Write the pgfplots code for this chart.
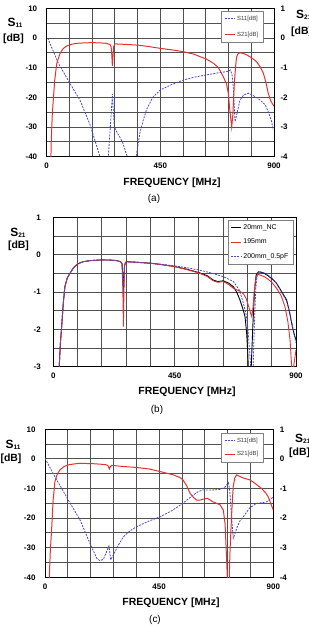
\documentclass[border=0pt]{standalone}
\usepackage{pgfplots}
\pgfplotsset{compat=1.18}
\usepackage{fontspec}
\setmainfont{Liberation Sans}
\definecolor{sred}{RGB}{228,48,48}
\definecolor{sblue}{RGB}{72,72,205}
\definecolor{gridc}{RGB}{80,80,80}
\pgfplotsset{
  base/.style={scale only axis, anchor=south west, xmin=0, xmax=900,
    xtick={0,450,900}, minor xtick={90,180,...,810},
    grid=both, grid style={gridc, line width=0.85pt}, minor grid style={gridc, line width=0.85pt},
    axis line style={black, line width=0.9pt}, tick style={draw=none},
    /pgf/number format/assume math mode=true,
    ticklabel style={font=\bfseries\fontsize{8}{9}\selectfont},
    xticklabel style={yshift=-3bp},
    legend cell align=left,
    legend image code/.code={\draw[##1] (0cm,0cm) -- (0.35cm,0cm);},
  },
  rightax/.style={scale only axis, anchor=south west, xmin=0, xmax=900, ymin=-4, ymax=1,
    ytick={-4,-3,...,1}, axis y line*=right, axis x line=none,
    axis line style={black, line width=0.9pt}, tick style={draw=none},
    /pgf/number format/assume math mode=true,
    ticklabel style={font=\bfseries\fontsize{8}{9}\selectfont},
    yticklabel style={xshift=3bp},
    legend cell align=left,
    legend image code/.code={\draw[##1] (0cm,0cm) -- (0.35cm,0cm);},
  },
  lgd/.style={legend style={font=\fontsize{6}{7}\selectfont, draw=gray, line width=0.5pt, fill=white, inner sep=2.5bp, text=darkgray}},
  s11/.style={sblue, line width=0.8pt, dash pattern=on 2pt off 1.2pt},
  s21/.style={sred, line width=1.0pt},
}
\begin{document}
\begin{tikzpicture}
\useasboundingbox (0,0) rectangle (309bp,627bp);
% ---------------- (a)
\begin{axis}[base, at={(46.7bp,470.3bp)}, width=227.3bp, height=148.4bp,
  ymin=-40, ymax=10, ytick={-40,-30,...,10}, minor ytick={-35,-25,...,5},
  yticklabel style={xshift=-6bp}]
\addplot[s11] coordinates {(4,0) (46,-8.5) (90,-15) (132,-21) (172,-29.3) (211,-40) (228,-50) (244,-40) (252,-30) (260,-18.9) (264,-25) (268,-30) (280,-32) (300,-35) (319,-40) (336,-50) (354,-40) (369,-32) (383,-27.5) (396,-24) (420,-20) (450,-17.5) (495,-15.7) (540,-14.2) (585,-13.2) (629,-12.5) (675,-11.8) (715,-11.3) (728,-10.8) (734,-12.5) (740,-18) (745.6,-28.2) (752,-26) (765,-21) (780,-19.2) (798,-18.6) (820,-19.5) (845,-20.9) (865,-22.5) (877,-24.8) (890,-28) (897,-31)};
\end{axis}
\begin{axis}[rightax, at={(46.7bp,470.3bp)}, width=227.3bp, height=148.4bp, lgd,
  legend style={at={(0.952,0.982)}, anchor=north east, row sep=6.5bp}]
\addlegendimage{s11}\addlegendentry{S11[dB]}
\addplot[s21] coordinates {(14,-5) (18,-3.5) (22,-2.6) (26,-2.09) (32,-1.4) (40,-0.85) (53,-0.52) (65,-0.36) (79,-0.27) (100,-0.21) (119,-0.18) (150,-0.165) (181,-0.157) (210,-0.165) (237,-0.18) (250,-0.22) (255,-0.29) (258,-0.6) (260,-0.94) (262,-0.7) (265,-0.3) (270,-0.20) (300,-0.21) (330,-0.225) (360,-0.24) (405,-0.29) (450,-0.35) (495,-0.40) (540,-0.46) (585,-0.55) (607,-0.63) (630,-0.70) (660,-0.85) (680,-1.0) (699,-1.3) (712,-1.55) (719,-1.86) (726,-2.5) (732.5,-3.0) (737,-2.6) (743,-1.53) (748,-0.95) (752,-0.63) (758,-0.53) (765,-0.5) (778,-0.52) (792,-0.57) (810,-0.66) (831,-0.8) (845,-0.97) (858,-1.19) (868,-1.5) (877,-1.86) (887,-2.12) (900,-2.3)};
\addlegendentry{S21[dB]}
\end{axis}
% ---------------- (b)
\begin{axis}[base, at={(53.3bp,260.3bp)}, width=242.7bp, height=149.4bp,
  ymin=-3, ymax=1, ytick={-3,-2,...,1}, minor ytick={-2.5,-1.5,-0.5,0.5},
  yticklabel style={xshift=-9bp}, lgd,
  legend style={at={(0.988,0.982)}, anchor=north east, font=\fontsize{7}{8}\selectfont, text=black, row sep=4bp}]
\addplot[black, line width=0.9pt] coordinates {(20,-3.3) (22,-3) (26,-2.4) (31,-1.93) (37,-1.3) (43,-0.857) (52,-0.62) (62,-0.5) (75,-0.35) (90,-0.25) (110,-0.19) (136,-0.16) (180,-0.14) (210,-0.145) (235,-0.16) (250,-0.19) (255,-0.25) (258,-0.6) (260,-0.99) (262,-0.6) (264,-0.3) (268,-0.21) (272,-0.19) (300,-0.2) (330,-0.215) (361,-0.23) (405,-0.27) (450,-0.32) (495,-0.39) (540,-0.48) (570,-0.56) (593,-0.68) (610,-0.72) (630,-0.70) (650,-0.76) (668,-0.86) (680,-1.0) (692,-1.21) (703,-1.45) (711,-1.66) (717,-2.1) (721,-2.6) (723,-3) (726,-3.5) (730,-3.5) (734,-3) (740,-1.9) (746,-1.0) (752,-0.55) (760,-0.46) (770,-0.47) (782,-0.5) (795,-0.56) (810,-0.64) (828,-0.77) (845,-0.97) (865,-1.21) (875,-1.5) (884,-1.84) (892,-2.1) (900,-2.29)};
\addlegendentry{20mm\_NC}
\addplot[sred, line width=0.9pt] coordinates {(20,-3.3) (22,-3) (26,-2.4) (31,-1.93) (37,-1.3) (43,-0.857) (52,-0.62) (62,-0.5) (75,-0.35) (90,-0.25) (110,-0.19) (136,-0.16) (180,-0.14) (210,-0.145) (235,-0.16) (250,-0.19) (255,-0.25) (258,-1.0) (260,-1.93) (262,-1.0) (264,-0.3) (268,-0.21) (272,-0.19) (300,-0.2) (330,-0.215) (361,-0.23) (405,-0.27) (450,-0.32) (495,-0.40) (540,-0.49) (570,-0.58) (593,-0.70) (610,-0.74) (630,-0.72) (650,-0.80) (668,-0.90) (692,-0.98) (705,-1.05) (715,-1.17) (725,-1.4) (732,-1.57) (736,-1.66) (740,-1.45) (744,-1.1) (748,-0.78) (752,-0.63) (758,-0.53) (764,-0.54) (780,-0.58) (795,-0.65) (810,-0.74) (828,-0.9) (845,-1.1) (859,-1.39) (870,-1.8) (878,-2.29) (884,-3) (888,-3.2) (893,-2.9) (900,-2.55)};
\addlegendentry{195mm}
\addplot[sblue, line width=0.8pt, dash pattern=on 2pt off 1.2pt] coordinates {(20,-3.3) (22,-3) (26,-2.4) (31,-1.93) (37,-1.3) (43,-0.857) (52,-0.62) (62,-0.5) (75,-0.35) (90,-0.25) (110,-0.19) (136,-0.16) (180,-0.14) (210,-0.145) (235,-0.16) (250,-0.19) (255,-0.25) (258,-0.6) (260,-0.99) (262,-0.6) (264,-0.3) (268,-0.21) (272,-0.19) (300,-0.2) (330,-0.215) (361,-0.23) (405,-0.26) (450,-0.30) (495,-0.35) (540,-0.41) (585,-0.49) (631,-0.59) (668,-0.72) (690,-0.95) (705,-1.3) (715,-1.6) (722,-2.0) (728,-2.6) (732,-3) (735,-3.5) (738,-3.5) (741,-3) (746,-1.8) (751,-0.9) (756,-0.52) (764,-0.46) (775,-0.47) (790,-0.52) (810,-0.62) (828,-0.77) (845,-0.98) (865,-1.25) (878,-1.6) (888,-1.95) (895,-2.2) (900,-2.37)};
\addlegendentry{200mm\_0.5pF}
\end{axis}
% ---------------- (c)
\begin{axis}[base, at={(45bp,49.7bp)}, width=228.3bp, height=148bp,
  ymin=-40, ymax=10, ytick={-40,-30,...,10}, minor ytick={-35,-25,...,5},
  yticklabel style={xshift=-6bp}]
\addplot[s11] coordinates {(0,0.2) (39,-6) (92,-13.9) (138,-20.6) (177,-28.5) (204,-33.6) (217,-34.4) (230,-33.9) (243,-31.3) (252,-29.4) (256,-32) (259,-34.1) (269,-32.5) (290,-29) (309,-26.3) (335,-24.3) (361,-22.9) (410,-21) (455,-19.5) (500,-17.5) (544,-15) (565,-13.5) (585,-12.2) (605,-11) (624,-10.5) (660,-10.5) (690,-10.3) (710,-9.5) (723,-8.0) (728,-10.5) (732,-15) (737,-21) (742,-26.8) (748,-25.5) (756,-23.4) (768,-21) (782,-19.5) (808,-16.5) (834,-15) (855,-14.8) (874,-14.5) (893,-13.3) (900,-13)};
\end{axis}
\begin{axis}[rightax, at={(45bp,49.7bp)}, width=228.3bp, height=148bp, lgd,
  legend style={at={(0.955,0.975)}, anchor=north east, row sep=4bp}]
\addlegendimage{s11}\addlegendentry{S11[dB]}
\addplot[s21] coordinates {(14,-5) (17,-4) (21,-3.1) (26,-2.4) (32,-1.4) (39,-0.77) (48,-0.52) (59,-0.37) (75,-0.26) (92,-0.2) (115,-0.17) (138,-0.15) (187,-0.16) (220,-0.18) (243,-0.2) (250,-0.25) (254,-0.34) (258,-0.26) (263,-0.22) (300,-0.25) (361,-0.29) (410,-0.34) (455,-0.43) (506,-0.54) (530,-0.62) (544,-0.71) (558,-0.9) (572,-1.16) (585,-1.3) (598,-1.39) (611,-1.39) (624,-1.36) (640,-1.33) (662,-1.45) (690,-1.55) (703,-1.73) (710,-2.2) (716,-3.41) (721,-4.5) (725,-4.5) (729,-3.2) (733,-2.4) (738,-1.5) (742,-0.94) (748,-0.65) (755,-0.54) (765,-0.58) (780,-0.64) (808,-0.71) (830,-0.84) (854,-1.0) (870,-1.15) (880,-1.28) (890,-1.5) (900,-1.73)};
\addlegendentry{S21[dB]}
\end{axis}
% ---------------- labels
\begin{scope}[font=\bfseries]
% (a)
\node at (15bp,604bp) {{\fontsize{12}{12}\selectfont S}{\fontsize{6.5}{7}\selectfont\raisebox{-1.5bp}{11}}};
\node at (13.5bp,588bp) {\fontsize{10.5}{11}\selectfont [dB]};
\node[anchor=west, inner sep=0] at (296bp,612bp) {{\fontsize{12}{12}\selectfont S}{\fontsize{6.5}{7}\selectfont\raisebox{-1.5bp}{21}}};
\node[anchor=west, inner sep=0] at (291bp,595bp) {\fontsize{10.5}{11}\selectfont [dB]};
\node at (172bp,444bp) {\fontsize{10.5}{11}\selectfont FREQUENCY [MHz]};
% (b)
\node at (18bp,394bp) {{\fontsize{12}{12}\selectfont S}{\fontsize{6.5}{7}\selectfont\raisebox{-1.5bp}{21}}};
\node at (18.5bp,381bp) {\fontsize{10.5}{11}\selectfont [dB]};
\node at (187bp,235bp) {\fontsize{10.5}{11}\selectfont FREQUENCY [MHz]};
% (c)
\node at (13bp,182bp) {{\fontsize{12}{12}\selectfont S}{\fontsize{6.5}{7}\selectfont\raisebox{-1.5bp}{11}}};
\node at (11bp,168bp) {\fontsize{10.5}{11}\selectfont [dB]};
\node[anchor=west, inner sep=0] at (295bp,188bp) {{\fontsize{12}{12}\selectfont S}{\fontsize{6.5}{7}\selectfont\raisebox{-1.5bp}{21}}};
\node[anchor=west, inner sep=0] at (289bp,174bp) {\fontsize{10.5}{11}\selectfont [dB]};
\node at (171bp,24bp) {\fontsize{10.5}{11}\selectfont FREQUENCY [MHz]};
\end{scope}
\node[font=\fontsize{10}{11}\selectfont] at (154bp,428bp) {(a)};
\node[font=\fontsize{10}{11}\selectfont] at (157bp,217bp) {(b)};
\node[font=\fontsize{10}{11}\selectfont] at (155bp,7bp) {(c)};
\end{tikzpicture}
\end{document}
